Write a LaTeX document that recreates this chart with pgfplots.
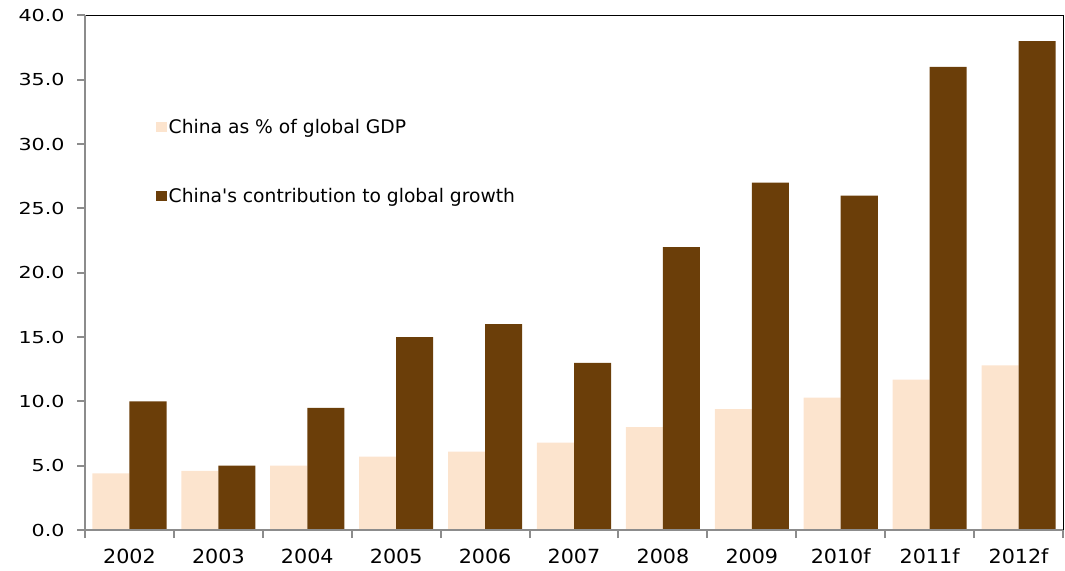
\documentclass[border=0pt]{standalone}
\usepackage{pgfplots}
\pgfplotsset{compat=1.18}
\usepackage{fontspec}
\setmainfont{DejaVu Sans}
\newfontfamily\ylabfont{DejaVu Sans}[FakeStretch=1.25]
\newfontfamily\xlabfont{DejaVu Sans}[FakeStretch=1.06]
\newfontfamily\legfont{DejaVu Sans}[Ligatures=TeXOff]
\definecolor{lightbar}{RGB}{252,228,206}
\definecolor{darkbar}{RGB}{107,62,9}
\definecolor{spine}{RGB}{140,140,140}
\begin{document}
\begin{tikzpicture}
\useasboundingbox (-85pt,-40pt) rectangle (980pt,530pt);
\begin{axis}[
  scale only axis, width=978pt, height=514.5pt,
  xmin=-0.5, xmax=10.5, ymin=0, ymax=40,
  ybar=0pt, bar width=0.4167,
  axis x line*=bottom, axis y line*=left,
  axis line style={draw=none, -},
  tick align=outside,
  xtick={0,1,2,3,4,5,6,7,8,9,10},
  xticklabels={2002,2003,2004,2005,2006,2007,2008,2009,2010f,2011f,2012f},
  major x tick style={draw=none},
  minor xtick={-0.5,0.5,1.5,2.5,3.5,4.5,5.5,6.5,7.5,8.5,9.5,10.5},
  minor x tick style={draw=spine, line width=2pt},
  minor tick length=8pt,
  ytick={0,5,10,15,20,25,30,35,40},
  y tick style={draw=spine, line width=2pt},
  major tick length=8pt,
  xticklabel style={font=\xlabfont\fontsize{19.5}{21}\selectfont, text=black, yshift=-7pt},
  yticklabel style={font=\ylabfont\fontsize{16.5}{18}\selectfont, text=black, xshift=-9pt,
     /pgf/number format/.cd, fixed, fixed zerofill, precision=1, assume math mode=true},
  legend style={at={(rel axis cs:0.0726,0.801)}, anchor=north west, draw=none, fill=none,
     font=\legfont\fontsize{18.7}{20}\selectfont, row sep=50pt, inner sep=0pt,
     nodes={inner sep=1.5pt}},
  legend cell align=left,
  legend image code/.code={\fill[#1,draw=none] (0pt,-5pt) rectangle (11pt,5pt);},
  clip=false,
]
\addplot[fill=lightbar, draw=none] coordinates {
 (0,4.4) (1,4.6) (2,5.0) (3,5.7) (4,6.1) (5,6.8) (6,8.0) (7,9.4) (8,10.3) (9,11.7) (10,12.8)};
\addlegendentry{China as \% of global GDP}
\addplot[fill=darkbar, draw=none] coordinates {
 (0,10) (1,5) (2,9.5) (3,15) (4,16) (5,13) (6,22) (7,27) (8,26) (9,36) (10,38)};
\addlegendentry{China's contribution to global growth}
\draw[black, line width=1pt] (rel axis cs:0,1) -- (rel axis cs:1,1) -- (rel axis cs:1,0);
\draw[spine, line width=2.6pt] (rel axis cs:0,1) -- (rel axis cs:0,0) -- (rel axis cs:1,0);
\end{axis}
\end{tikzpicture}
\end{document}
